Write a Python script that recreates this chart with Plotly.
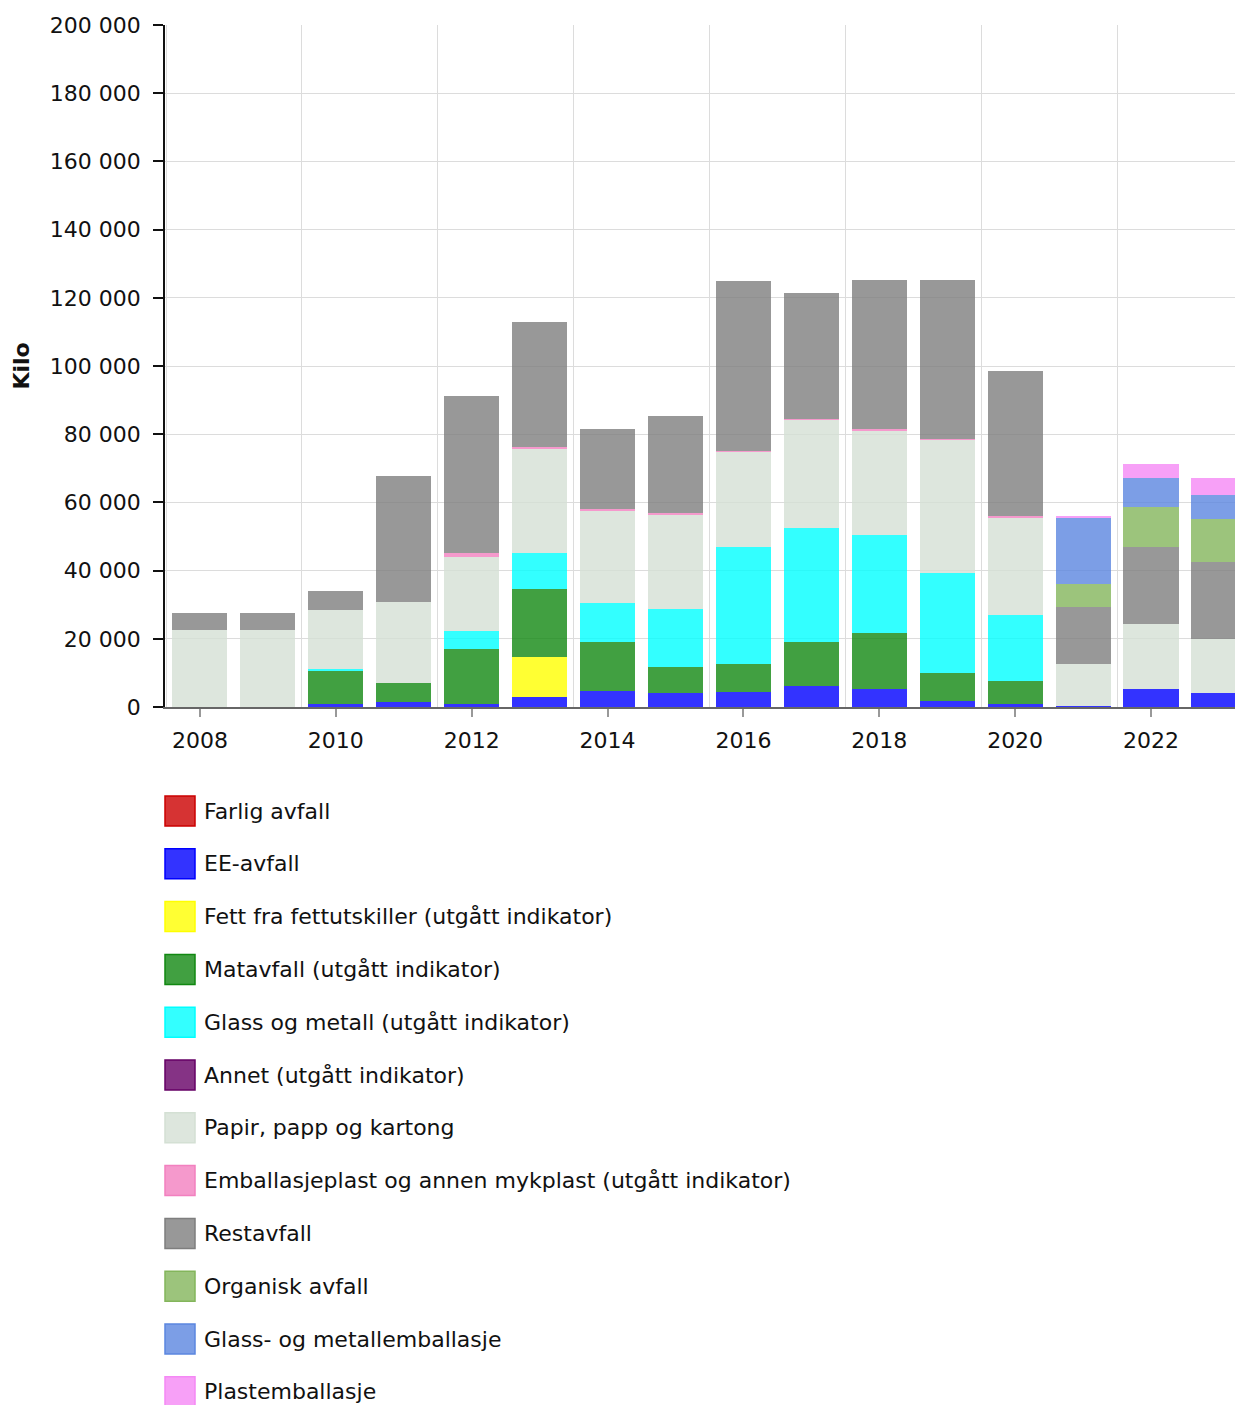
import plotly.graph_objects as go

# År og kategorier (kilo per år)
years = list(range(2008, 2024))

names = [
    "Farlig avfall",
    "EE-avfall",
    "Fett fra fettutskiller (utgått indikator)",
    "Matavfall (utgått indikator)",
    "Glass og metall (utgått indikator)",
    "Annet (utgått indikator)",
    "Papir, papp og kartong",
    "Emballasjeplast og annen mykplast (utgått indikator)",
    "Restavfall",
    "Organisk avfall",
    "Glass- og metallemballasje",
    "Plastemballasje",
]

farlig = [0] * 16
ee = [0, 0, 1000, 1400, 1000, 2900, 4600, 4100, 4500, 6200, 5200, 1800, 1000, 400, 5200, 4200]
fett = [0, 0, 0, 0, 0, 11800, 0, 0, 0, 0, 0, 0, 0, 0, 0, 0]
matavfall = [0, 0, 9600, 5700, 15900, 20000, 14500, 7500, 8100, 13000, 16500, 8200, 6700, 0, 0, 0]
glass_metall = [0, 0, 400, 0, 5500, 10500, 11500, 17100, 34400, 33400, 28700, 29400, 19300, 0, 0, 0]
annet = [0] * 16
papir = [22600, 22600, 17400, 23700, 21700, 30500, 26900, 27600, 27900, 31600, 30500, 38900, 28500, 12300, 19100, 15700]
mykplast = [0, 0, 0, 0, 1100, 600, 700, 600, 300, 300, 500, 400, 400, 0, 0, 0]
restavfall = [5000, 5000, 5600, 36900, 46000, 36600, 23300, 28400, 49700, 36900, 43800, 46500, 42600, 16600, 22600, 22700]
organisk = [0] * 13 + [6900, 11700, 12600]
glass_emb = [0] * 13 + [19200, 8500, 7100]
plast_emb = [0] * 13 + [700, 4200, 4900]

series = [farlig, ee, fett, matavfall, glass_metall, annet, papir,
          mykplast, restavfall, organisk, glass_emb, plast_emb]

base_colors = [
    (204, 0, 0),
    (0, 0, 255),
    (255, 255, 0),
    (17, 136, 17),
    (0, 255, 255),
    (102, 0, 102),
    (212, 224, 212),
    (242, 128, 191),
    (126, 126, 126),
    (131, 181, 91),
    (91, 134, 224),
    (245, 136, 245),
]

FONT = "DejaVu Sans, Verdana, sans-serif"
W, H = 1251, 1405
# siden har 8 px marg, så alt er forskjøvet 8 px opp/venstre
PLOT_L, PLOT_R, PLOT_T, PLOT_B = 157, 1251, 17, 699


def fill(c, a=0.8):
    return f"rgba({c[0]},{c[1]},{c[2]},{a})"


def solid(c):
    return f"rgb({c[0]},{c[1]},{c[2]})"


def px_to_paper(px, py):
    return ((px - PLOT_L) / (PLOT_R - PLOT_L),
            (PLOT_B - py) / (PLOT_B - PLOT_T))


fig = go.Figure()
for name, vals, c in zip(names, series, base_colors):
    fig.add_trace(go.Bar(
        x=years, y=vals, name=name,
        marker=dict(color=fill(c), line=dict(width=0)),
        hovertemplate="%{x}: %{y:,} kg<extra>" + name + "</extra>",
    ))

# Egen legende med store kvadrater under plottet
for i, (name, c) in enumerate(zip(names, base_colors)):
    cy = 803 + i * 52.8
    x0, y0 = px_to_paper(157, cy + 15)
    x1, y1 = px_to_paper(187, cy - 15)
    fig.add_shape(type="rect", xref="paper", yref="paper",
                  x0=x0, x1=x1, y0=y0, y1=y1,
                  fillcolor=fill(c), line=dict(color=solid(c), width=1.5))
    tx, ty = px_to_paper(194, cy)
    fig.add_annotation(xref="paper", yref="paper", x=tx, y=ty,
                       xanchor="left", yanchor="middle", showarrow=False,
                       text=name, font=dict(size=22, color="#111", family=FONT))

fig.update_layout(
    width=W, height=H,
    barmode="stack", bargap=0.19,
    paper_bgcolor="white", plot_bgcolor="white",
    font=dict(family=FONT, size=22, color="#111"),
    showlegend=False,
    separators=", ",
    margin=dict(l=PLOT_L, r=W - PLOT_R, t=PLOT_T, b=H - PLOT_B, autoexpand=False),
    xaxis=dict(
        range=[2007.485, 2023.59],
        tickmode="array", tickvals=list(range(2008, 2024, 2)),
        ticks="outside", ticklen=8, tickcolor="#999", tickwidth=1.5,
        showgrid=False, zeroline=False,
        showline=True, linecolor="#666", linewidth=1.5,
        minor=dict(tickmode="linear", tick0=2009.5, dtick=2, ticklen=0,
                   showgrid=True, gridcolor="#dcdcdc", gridwidth=1),
        tickfont=dict(size=22),
        ticklabelstandoff=5,
    ),
    yaxis=dict(
        range=[0, 200000], tickmode="linear", tick0=0, dtick=20000,
        tickformat=",d",
        ticks="outside", ticklen=10, tickcolor="#111", tickwidth=1.5,
        showgrid=True, gridcolor="#dcdcdc", gridwidth=1,
        zeroline=False, showline=True, linecolor="#111", linewidth=1.5,
        title=dict(text="<b>Kilo</b>", font=dict(size=22), standoff=14),
        tickfont=dict(size=22),
        ticklabelstandoff=8,
    ),
)

fig.write_html("out.html")
